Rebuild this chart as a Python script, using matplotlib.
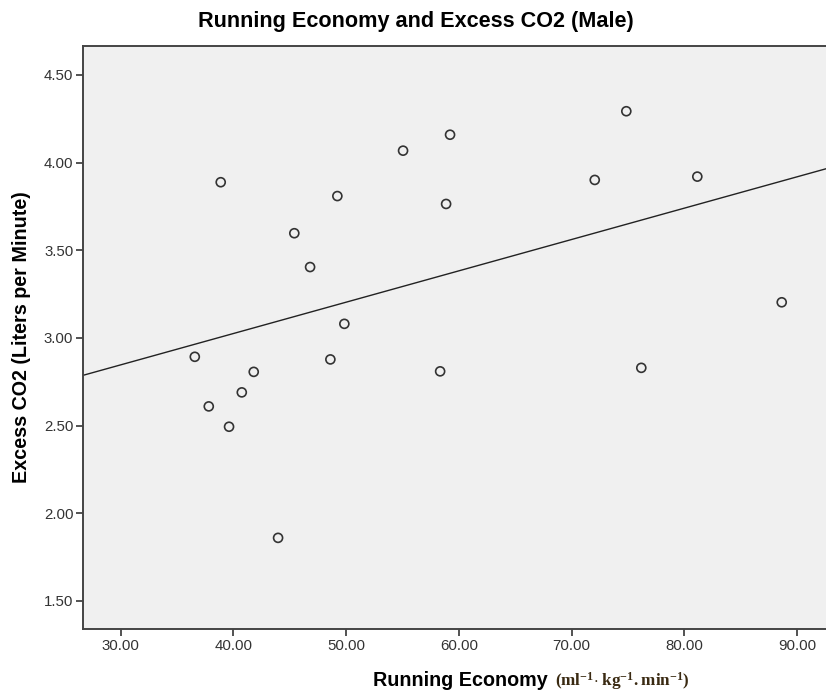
import numpy as np
import matplotlib
matplotlib.use("Agg")
import matplotlib.pyplot as plt

# Running economy (ml/kg/min) and excess CO2 (L/min), male group
running_economy = [38.87, 49.22, 45.40, 46.80, 49.84, 36.57, 48.60, 41.80,
                   40.74, 37.81, 39.61, 43.96, 55.05, 59.22, 58.87, 72.06,
                   74.86, 81.16, 88.65, 76.19, 58.34]
excess_co2 = [3.888, 3.809, 3.597, 3.404, 3.080, 2.892, 2.877, 2.806,
              2.689, 2.609, 2.493, 1.859, 4.068, 4.159, 3.764, 3.901,
              4.293, 3.920, 3.203, 2.829, 2.809]

x_ticks = [30, 40, 50, 60, 70, 80, 90]
y_ticks = [1.5, 2.0, 2.5, 3.0, 3.5, 4.0, 4.5]

matplotlib.rcParams["font.family"] = "Liberation Sans"
matplotlib.rcParams["mathtext.fontset"] = "custom"
matplotlib.rcParams["mathtext.rm"] = "Liberation Serif"
matplotlib.rcParams["mathtext.bf"] = "Liberation Serif:bold"

fig = plt.figure(figsize=(8.26, 6.96), dpi=100)
# plot area runs off the right side of the picture (cropped SPSS chart)
ax = fig.add_axes([83 / 826, 67 / 696, 750 / 826, 583.5 / 696])
ax.set_facecolor("#f0f0f0")

ax.set_xlim(26.65, 93.2)
ax.set_ylim(1.339, 4.668)

ax.scatter(running_economy, excess_co2, s=42, facecolors="none",
           edgecolors="#333333", linewidths=1.2, zorder=3)

# fit line
slope, intercept = np.polyfit(running_economy, excess_co2, 1)
xs = np.array(ax.get_xlim())
ax.plot(xs, slope * xs + intercept, color="#222222", linewidth=1.0, zorder=2)

ax.set_xticks(x_ticks)
ax.set_yticks(y_ticks)
ax.set_xticklabels(["%.2f" % v for v in x_ticks])
ax.set_yticklabels(["%.2f" % v for v in y_ticks])
ax.tick_params(direction="out", length=5, width=1.3, color="#444444",
               labelsize=10.8, labelcolor="#333333", pad=2)

for side in ["top", "left", "bottom"]:
    ax.spines[side].set_color("#444444")
    ax.spines[side].set_linewidth(1.4)
ax.spines["right"].set_visible(False)

fig.text(416 / 826, 1 - 22 / 696, "Running Economy and Excess CO2 (Male)",
         ha="center", va="center", fontsize=15.6, fontweight="bold")
fig.text(22 / 826, 1 - 337 / 696, "Excess CO2 (Liters per Minute)",
         rotation=90, ha="center", va="center", fontsize=14.2, fontweight="bold")
fig.text(548 / 826, 1 - 681 / 696, "Running Economy",
         ha="right", va="center", fontsize=14.2, fontweight="bold")
fig.text(555 / 826, 1 - 681 / 696,
         r"$\mathbf{(ml^{-1}\!\cdot kg^{-1}.min^{-1})}$",
         ha="left", va="center", fontsize=12.3, color="#3a2a12")

plt.savefig("out.png", dpi=100)
